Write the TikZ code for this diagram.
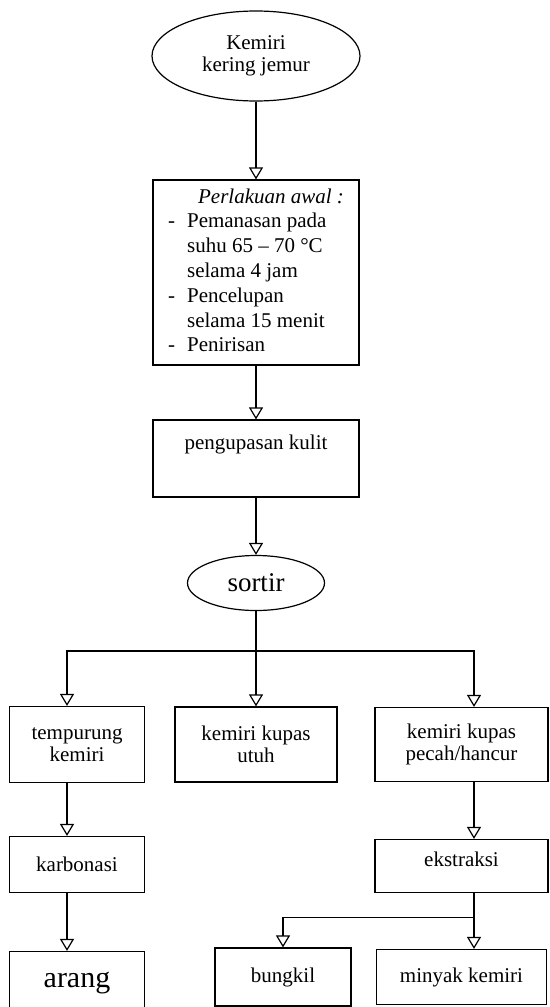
\documentclass[tikz,border=0pt]{standalone}
\usepackage{fontspec}
\setmainfont{Liberation Serif}
\usepackage{tikz}
\usetikzlibrary{arrows.meta,shapes.geometric,positioning}

\begin{document}
\begin{tikzpicture}[node distance=60pt,on grid,
   every node/.style={font=\fontsize{10.5}{11}\selectfont},
   kotak/.style={draw,line width=0.6pt,align=center,inner sep=2pt},
   oval/.style={draw,ellipse,line width=0.6pt,align=center,inner sep=1pt},
   panah/.style={-{Triangle[open,length=6pt,width=7pt]},line width=0.6pt}]
   \useasboundingbox (0,0) rectangle (275pt,-503.5pt);
   \node[oval,minimum width=104pt,minimum height=45pt] (kemiri) at (128pt,-28pt) {Kemiri\\kering jemur};
   \node[kotak,minimum width=103pt,minimum height=92.5pt,font=\fontsize{10.5}{12.4}\selectfont] (awal) [below=108.25pt of kemiri]
      {\begin{tabular}{@{}l@{\hspace{6pt}}l@{}}
       \multicolumn{2}{@{\hspace{15pt}}l@{}}{\textit{Perlakuan awal :}}\\
       - & Pemanasan pada\\
         & suhu 65 -- 70 °C\\
         & selama 4 jam\\
       - & Pencelupan\\
         & selama 15 menit\\
       - & Penirisan
       \end{tabular}};
   \node[kotak,minimum width=103pt,minimum height=38.5pt,text depth=16pt] (kupas) [below=93pt of awal] {pengupasan kulit};
   \node[oval,minimum width=68.5pt,minimum height=27.5pt,font=\fontsize{13.5}{15}\selectfont] (sortir) [below=62.25pt of kupas] {sortir};
   \node[kotak,minimum width=81pt,minimum height=37.5pt] (utuh) [below=80.75pt of sortir] {kemiri kupas\\utuh};
   \node[kotak,minimum width=67.5pt,minimum height=38pt] (tempurung) [left=89.5pt of utuh] {tempurung\\kemiri};
   \node[kotak,minimum width=86.5pt,minimum height=37pt] (pecah) [right=102.75pt of utuh] {kemiri kupas\\pecah/hancur};
   \node[kotak,minimum width=67.5pt,minimum height=28pt] (karbonasi) [below=60pt of tempurung] {karbonasi};
   \node[kotak,minimum width=67.5pt,minimum height=31.5pt,font=\fontsize{15}{17}\selectfont] (arang) [below=59.25pt of karbonasi] {arang};
   \node[kotak,minimum width=86.5pt,minimum height=26.5pt,text depth=6.5pt] (ekstraksi) [below=60.75pt of pecah] {ekstraksi};
   \node[kotak,minimum width=85pt,minimum height=27.5pt] (minyak) [below=55.5pt of ekstraksi] {minyak kemiri};
   \node[kotak,minimum width=68pt,minimum height=29pt] (bungkil) [left=89.25pt of minyak] {bungkil};
   \coordinate[below=34pt of sortir] (pisah);
   \coordinate[left=94.5pt of pisah] (kiri);
   \coordinate[right=109pt of pisah] (kanan);
   \draw[panah] (kemiri) -- (awal);
   \draw[panah] (awal) -- (kupas);
   \draw[panah] (kupas) -- (sortir);
   \draw[panah] (sortir) -- (utuh);
   \draw[panah] (sortir) |- (kiri) -- (kiri |- tempurung.north);
   \draw[panah] (sortir) |- (kanan) -- (kanan |- pecah.north);
   \draw[panah] (kiri |- tempurung.south) -- (kiri |- karbonasi.north);
   \draw[panah] (kiri |- karbonasi.south) -- (kiri |- arang.north);
   \draw[panah] (kanan |- pecah.south) -- (kanan |- ekstraksi.north);
   \draw[panah] (kanan |- ekstraksi.south) -- (kanan |- minyak.north);
   \draw[panah] (kanan |- ekstraksi.south) -- ++(0,-12pt) -| (bungkil.north);
\end{tikzpicture}
\end{document}
